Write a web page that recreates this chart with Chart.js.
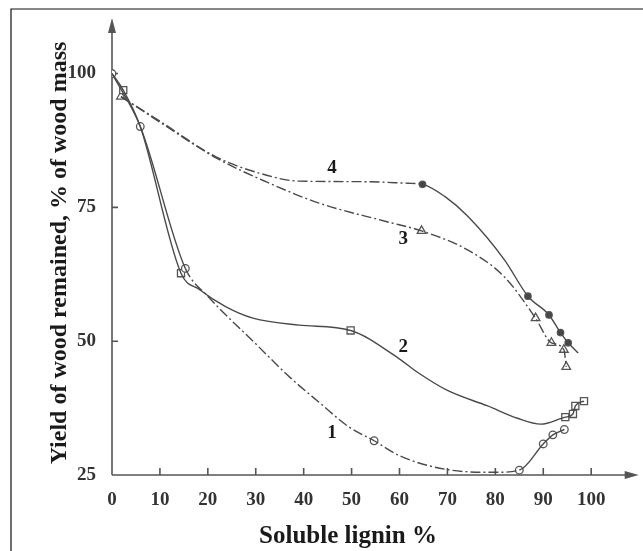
<!DOCTYPE html>
<html>
<head>
<meta charset="utf-8">
<script src="https://cdn.jsdelivr.net/npm/chart.js@4"></script>
<style>
  html, body { margin: 0; padding: 0; background: #fff; }
  #wrap { width: 643px; height: 551px; }
</style>
</head>
<body>
<div id="wrap"><canvas id="lignin" width="643" height="551"></canvas></div>
<script>
// axis ticks
const xTicks = [0, 10, 20, 30, 40, 50, 60, 70, 80, 90, 100];
const yTicks = [25, 50, 75, 100];

// curve 1 (circles) - traced path and measured points
const curve1X = [0, 5.9, 15.3, 20, 30, 37.3, 43.2, 49.4, 54.7, 60, 70, 80, 85, 90, 92, 94.4];
const curve1Y = [100, 90.1, 63.6, 58.4, 49.5, 43.1, 38.6, 34.0, 31.4, 28.6, 26.0, 25.5, 25.9, 30.8, 32.5, 33.5];
const marks1X = [0, 5.9, 15.3, 54.7, 85, 90, 92, 94.4];
const marks1Y = [100, 90.1, 63.6, 31.4, 25.9, 30.8, 32.5, 33.5];

// curve 2 (squares)
const curve2X = [0, 2.35, 5.9, 14.4, 18.3, 23.8, 29.4, 39, 49.8, 59.8, 63.9, 70, 78.4, 84.6, 89.5, 94.6, 96.2, 96.7, 98.5];
const curve2Y = [100, 96.9, 90.1, 62.7, 59.6, 56.4, 54.3, 53.0, 52.0, 46.8, 44.1, 40.8, 37.9, 35.6, 34.5, 35.8, 36.4, 37.9, 38.8];
const marks2X = [2.35, 14.4, 49.8, 94.6, 96.2, 96.7, 98.5];
const marks2Y = [96.9, 62.7, 52.0, 35.8, 36.4, 37.9, 38.8];

// curve 3 (open triangles)
const curve3X = [1.87, 10, 21.8, 32.1, 43.2, 57, 64.6, 74.3, 81.9, 88.4, 91.7, 94.3, 94.8];
const curve3Y = [95.7, 90.9, 84.2, 79.8, 75.8, 72.4, 70.6, 67.0, 62.0, 54.3, 49.7, 48.4, 45.2];
const marks3X = [1.87, 64.6, 88.4, 91.7, 94.3, 94.8];
const marks3Y = [95.7, 70.6, 54.3, 49.7, 48.4, 45.2];

// curve 4 (filled dots)
const curve4X = [1.87, 10, 21.8, 30.7, 39, 52.1, 61.8, 64.8, 69.5, 74.3, 81.9, 86.8, 91.2, 93.6, 95.2, 97.3];
const curve4Y = [95.7, 91.1, 84.4, 81.4, 79.9, 79.8, 79.5, 79.3, 77.0, 73.3, 65.2, 58.4, 54.9, 51.6, 49.7, 47.8];
const marks4X = [64.8, 86.8, 91.2, 93.6, 95.2];
const marks4Y = [79.3, 58.4, 54.9, 51.6, 49.7];

// curve numbers written on the plot
const curveNames = ["1", "2", "3", "4"];
const nameX = [45.9, 60.8, 60.8, 45.9];
const nameY = [32.8, 48.9, 69.1, 82.4];

const xTitle = "Soluble lignin %";
const yTitle = "Yield of wood remained, % of wood mass";

const lineColor = "#4a4a4a";
const dashDot = [10, 3, 2, 3];

function toPoints(xs, ys) {
  return xs.map((x, i) => ({ x: x, y: ys[i] }));
}

// dash-dot only between two x values
function dashBetween(from, to) {
  return (ctx) =>
    ctx.p0.parsed.x >= from && ctx.p1.parsed.x <= to ? dashDot : undefined;
}

function lineSet(xs, ys, dashFn) {
  return {
    data: toPoints(xs, ys),
    showLine: true,
    borderColor: lineColor,
    borderWidth: 1.4,
    pointRadius: 0,
    cubicInterpolationMode: "monotone",
    segment: { borderDash: dashFn },
  };
}

function markSet(xs, ys, style, radius, filled) {
  return {
    data: toPoints(xs, ys),
    showLine: false,
    pointStyle: style,
    pointRadius: radius,
    pointBorderWidth: 1.3,
    pointBorderColor: "#555",
    pointBackgroundColor: filled ? "#444" : "#fff",
  };
}

const axisPlugin = {
  id: "axisPlugin",
  beforeDatasetsDraw(chart) {
    const { ctx, scales } = chart;
    const x0 = scales.x.getPixelForValue(0);
    const y0 = scales.y.getPixelForValue(25);
    const area = chart.chartArea;
    ctx.save();
    ctx.strokeStyle = "#555";
    ctx.fillStyle = "#555";
    ctx.lineWidth = 1.6;
    ctx.beginPath();
    ctx.moveTo(x0, y0);
    ctx.lineTo(x0, area.top + 10);
    ctx.moveTo(x0, y0);
    ctx.lineTo(area.right - 10, y0);
    // small ticks pointing inside
    xTicks.slice(1).forEach((v) => {
      const px = scales.x.getPixelForValue(v);
      ctx.moveTo(px, y0);
      ctx.lineTo(px, y0 - 7);
    });
    yTicks.slice(1).forEach((v) => {
      const py = scales.y.getPixelForValue(v);
      ctx.moveTo(x0, py);
      ctx.lineTo(x0 + 6, py);
    });
    ctx.stroke();
    // arrow heads
    ctx.beginPath();
    ctx.moveTo(x0, area.top - 2);
    ctx.lineTo(x0 - 4, area.top + 13);
    ctx.lineTo(x0 + 4, area.top + 13);
    ctx.closePath();
    ctx.moveTo(area.right + 2, y0);
    ctx.lineTo(area.right - 12, y0 - 4);
    ctx.lineTo(area.right - 12, y0 + 4);
    ctx.closePath();
    ctx.fill();
    ctx.restore();
  },
  afterDraw(chart) {
    const { ctx, scales } = chart;
    ctx.save();
    // frame
    ctx.strokeStyle = "#111";
    ctx.lineWidth = 1.2;
    ctx.beginPath();
    ctx.moveTo(11, 551);
    ctx.lineTo(11, 9);
    ctx.lineTo(643, 9);
    ctx.stroke();

    ctx.fillStyle = "#1a1a1a";
    ctx.textAlign = "center";
    // curve numbers
    ctx.font = "bold 19px 'Liberation Serif'";
    ctx.textBaseline = "middle";
    curveNames.forEach((n, i) => {
      ctx.fillText(
        n,
        scales.x.getPixelForValue(nameX[i]),
        scales.y.getPixelForValue(nameY[i])
      );
    });
    // axis titles
    ctx.textBaseline = "alphabetic";
    ctx.font = "bold 25px 'Liberation Serif'";
    ctx.fillText(xTitle, 348, 543);
    ctx.translate(66, 253);
    ctx.rotate(-Math.PI / 2);
    ctx.font = "bold 24px 'Liberation Serif'";
    ctx.fillText(yTitle, 0, 0);
    ctx.restore();
  },
};

const tickFont = { family: "'Liberation Serif'", size: 19, weight: "bold" };

new Chart(document.getElementById("lignin"), {
  type: "scatter",
  data: {
    datasets: [
      lineSet(curve1X, curve1Y, dashBetween(15, 85.5)),
      lineSet(curve2X, curve2Y, undefined),
      lineSet(curve3X, curve3Y, dashBetween(-1, 200)),
      lineSet(curve4X, curve4Y, dashBetween(-1, 65)),
      markSet(marks1X, marks1Y, "circle", 3.8, false),
      markSet(marks2X, marks2Y, "rect", 5, false),
      markSet(marks3X, marks3Y, "triangle", 5, false),
      markSet(marks4X, marks4Y, "circle", 3.2, true),
    ],
  },
  options: {
    responsive: false,
    animation: false,
    layout: { padding: { left: 12, top: 20, right: 3, bottom: 46 } },
    plugins: { legend: { display: false }, tooltip: { enabled: false } },
    scales: {
      x: {
        type: "linear",
        min: 0,
        max: 109.5,
        grid: { display: false },
        border: { display: false },
        afterBuildTicks: (s) => {
          s.ticks = xTicks.map((v) => ({ value: v }));
        },
        afterFit: (s) => {
          s.height = 30;
        },
        ticks: {
          autoSkip: false,
          maxRotation: 0,
          padding: 6,
          color: "#333",
          font: tickFont,
        },
      },
      y: {
        type: "linear",
        min: 25,
        max: 110,
        grid: { display: false },
        border: { display: false },
        afterBuildTicks: (s) => {
          s.ticks = yTicks.map((v) => ({ value: v }));
        },
        afterFit: (s) => {
          s.width = 100;
        },
        ticks: { padding: 8, color: "#333", font: tickFont },
      },
    },
  },
  plugins: [axisPlugin],
});
</script>
</body>
</html>
